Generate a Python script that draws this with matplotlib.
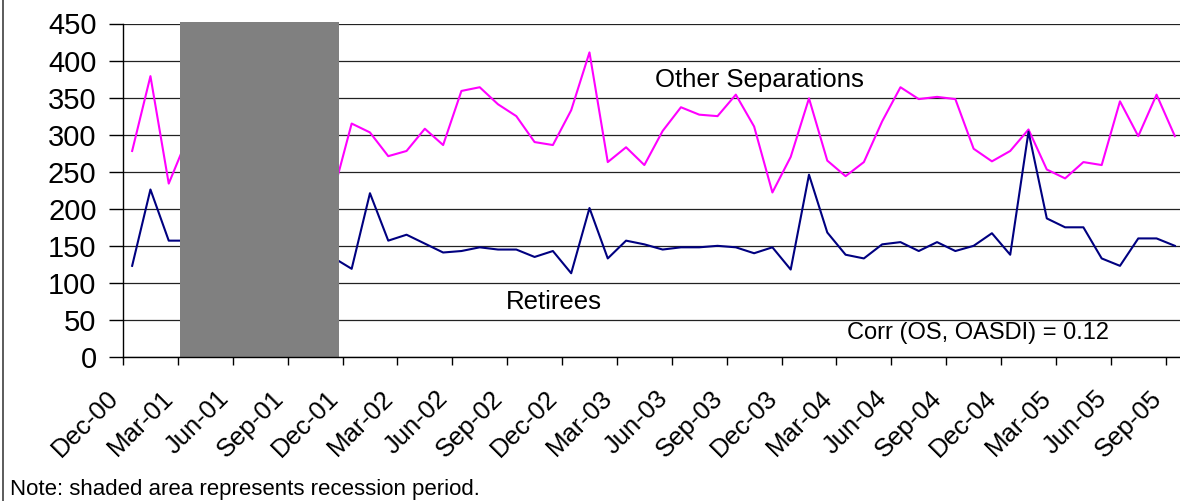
import matplotlib
matplotlib.use('Agg')
import matplotlib.pyplot as plt
import matplotlib.transforms as mtransforms
from matplotlib.lines import Line2D
import numpy as np

plt.rcParams['font.family'] = ['Liberation Sans', 'DejaVu Sans']

# monthly values, Dec-00 .. Sep-05 (points under the shading are estimates)
other_separations = [278, 379, 234, 294, 305, 290, 272, 285, 268, 255, 240, 222,
                     315, 303, 271, 278, 308, 286, 359, 364, 341, 325, 290, 286,
                     333, 411, 263, 283, 259, 305, 337, 327, 325, 354, 311, 222,
                     270, 349, 265, 244, 263, 318, 364, 348, 351, 348, 281, 264,
                     278, 307, 253, 241, 263, 259, 345, 298, 354, 298]
retirees = [123, 226, 157, 157, 162, 150, 146, 152, 141, 148, 137, 134,
            119, 221, 157, 165, 153, 141, 143, 148, 145, 145, 135, 143,
            113, 201, 133, 157, 152, 145, 148, 148, 150, 148, 140, 148,
            118, 246, 168, 138, 133, 152, 155, 143, 155, 143, 150, 167,
            138, 304, 187, 175, 175, 133, 123, 160, 160, 150]
tick_labels = ['Dec-00', 'Mar-01', 'Jun-01', 'Sep-01', 'Dec-01', 'Mar-02',
               'Jun-02', 'Sep-02', 'Dec-02', 'Mar-03', 'Jun-03', 'Sep-03',
               'Dec-03', 'Mar-04', 'Jun-04', 'Sep-04', 'Dec-04', 'Mar-05',
               'Jun-05', 'Sep-05']
recession = (2.6, 11.3)  # shaded span in month index units

n = len(other_separations)
x = np.arange(n)

fig = plt.figure(figsize=(11.8, 5.01), dpi=100)
ax = fig.add_axes([123 / 1180, 1 - 357 / 501, 1061 / 1180, 333.5 / 501])

ax.set_xlim(-0.5, n - 0.5)
ax.set_ylim(0, 450)
ax.set_yticks(np.arange(0, 451, 50))
ax.yaxis.grid(True, color='#222222', linewidth=0.9)
ax.set_axisbelow(True)

ax.plot(x, other_separations, color='#FF00FF', linewidth=1.5, zorder=3)
ax.plot(x, retirees, color='#000080', linewidth=1.5, zorder=3)

# recession bar drawn over the lines
ax.add_patch(plt.Rectangle((recession[0], 0), recession[1] - recession[0], 452,
                           facecolor='#808080', edgecolor='none', zorder=4,
                           clip_on=False))

ax.set_xticks(np.arange(len(tick_labels)) * 3 - 0.5)
ax.set_xticklabels(tick_labels, rotation=45, ha='right', va='center',
                   rotation_mode='anchor', fontsize=18.5)
ax.tick_params(axis='x', length=6, width=1, pad=21)
ax.tick_params(axis='y', length=10, width=1, pad=9, labelsize=21)
shift = mtransforms.ScaledTranslation(-8 / 100, 0, fig.dpi_scale_trans)
for lab in ax.get_xticklabels():
    lab.set_transform(lab.get_transform() + shift)

for s in ['top', 'right']:
    ax.spines[s].set_visible(False)
for s in ['left', 'bottom']:
    ax.spines[s].set_color('black')
    ax.spines[s].set_linewidth(1)
    ax.spines[s].set_zorder(5)

ax.text(28.57, 364, 'Other Separations', fontsize=18.5, va='baseline')
ax.text(20.43, 65, 'Retirees', fontsize=18.5, va='baseline')
ax.text(39.06, 24, 'Corr (OS, OASDI) = 0.12', fontsize=17, va='baseline')

fig.text(10 / 1180, 1 - 495 / 501, 'Note: shaded area represents recession period.',
         fontsize=16, va='baseline')
fig.add_artist(Line2D([3 / 1180, 3 / 1180], [0, 1], color='#404040', linewidth=1.2))

fig.savefig('out.png', dpi=100)
